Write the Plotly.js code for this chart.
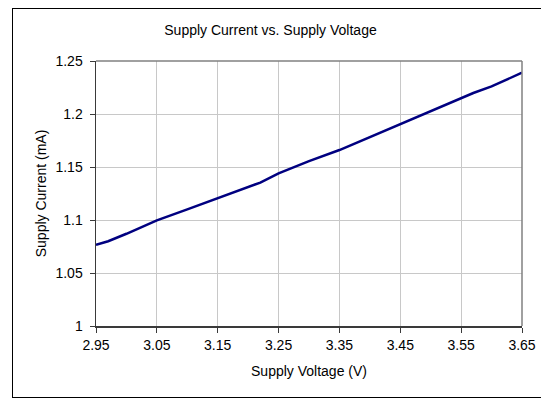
<!DOCTYPE html>
<html>
<head>
<meta charset="utf-8">
<script src="https://cdn.plot.ly/plotly-3.0.1.min.js"></script>
<style>
  html, body { margin: 0; padding: 0; background: #fff; }
  #wrap { position: relative; width: 541px; height: 400px; overflow: hidden; }
  #chart { position: absolute; left: 0; top: 0; width: 541px; height: 400px; }
  #frame { position: absolute; left: 12px; top: 8px; width: 560px; height: 388px;
           border: 1px solid #000; pointer-events: none; }
</style>
</head>
<body>
<div id="wrap">
  <div id="chart"></div>
  <div id="frame"></div>
</div>
<script>
// Data
const voltage = [2.95, 2.97, 3.00, 3.05, 3.10, 3.15, 3.22, 3.25, 3.30, 3.35, 3.40, 3.45, 3.50, 3.55, 3.57, 3.60, 3.65];
const current = [1.0765, 1.0800, 1.0870, 1.0997, 1.1100, 1.1208, 1.1353, 1.1440, 1.1555, 1.1660, 1.1783, 1.1908, 1.2030, 1.2151, 1.2198, 1.2260, 1.2390];

const xTickVals = [2.95, 3.05, 3.15, 3.25, 3.35, 3.45, 3.55, 3.65];
const xTickText = ["2.95", "3.05", "3.15", "3.25", "3.35", "3.45", "3.55", "3.65"];
const yTickVals = [1, 1.05, 1.1, 1.15, 1.2, 1.25];
const yTickText = ["1", "1.05", "1.1", "1.15", "1.2", "1.25"];

const chartTitle = "Supply Current vs. Supply Voltage";
const xTitle = "Supply Voltage (V)";
const yTitle = "Supply Current (mA)";

const font = "Liberation Sans, Arial, sans-serif";
const fs = 14;

const trace = {
  x: voltage,
  y: current,
  type: "scatter",
  mode: "lines",
  line: { color: "#000080", width: 2.5 },
  hoverinfo: "skip"
};

const layout = {
  width: 541,
  height: 400,
  margin: { l: 96, r: 19, t: 61, b: 74 },
  paper_bgcolor: "#ffffff",
  plot_bgcolor: "#ffffff",
  showlegend: false,
  font: { family: font, size: fs, color: "#000" },
  title: {
    text: chartTitle,
    font: { family: font, size: fs, color: "#000" },
    x: 0.5, xanchor: "center",
    y: 1 - 30 / 400, yanchor: "middle", yref: "container"
  },
  xaxis: {
    range: [2.95, 3.65],
    tickmode: "array",
    tickvals: xTickVals,
    ticktext: xTickText,
    showgrid: true,
    gridcolor: "#c8c8c8",
    gridwidth: 1,
    zeroline: false,
    showline: true,
    linecolor: "#3a3a3a",
    linewidth: 1.5,
    ticks: "outside",
    ticklen: 5,
    tickcolor: "#3a3a3a",
    tickwidth: 1,
    ticklabelstandoff: 1,
    tickfont: { family: font, size: fs, color: "#000" },
    title: { text: xTitle, font: { family: font, size: fs, color: "#000" }, standoff: 14 },
    fixedrange: true
  },
  yaxis: {
    range: [1, 1.25],
    tickmode: "array",
    tickvals: yTickVals,
    ticktext: yTickText,
    showgrid: true,
    gridcolor: "#c8c8c8",
    gridwidth: 1,
    zeroline: false,
    showline: true,
    linecolor: "#3a3a3a",
    linewidth: 1.5,
    ticks: "outside",
    ticklen: 5,
    tickcolor: "#3a3a3a",
    tickwidth: 1,
    ticklabelstandoff: 4,
    tickfont: { family: font, size: fs, color: "#000" },
    title: { text: yTitle, font: { family: font, size: fs, color: "#000" }, standoff: 5 },
    fixedrange: true
  },
  shapes: [
    { type: "line", xref: "paper", yref: "paper", x0: 0, x1: 1, y0: 1, y1: 1,
      line: { color: "#808080", width: 1.5 }, layer: "above" },
    { type: "line", xref: "paper", yref: "paper", x0: 1, x1: 1, y0: 0, y1: 1,
      line: { color: "#808080", width: 1.5 }, layer: "above" }
  ]
};

Plotly.newPlot("chart", [trace], layout, { staticPlot: true, displayModeBar: false });
</script>
</body>
</html>
